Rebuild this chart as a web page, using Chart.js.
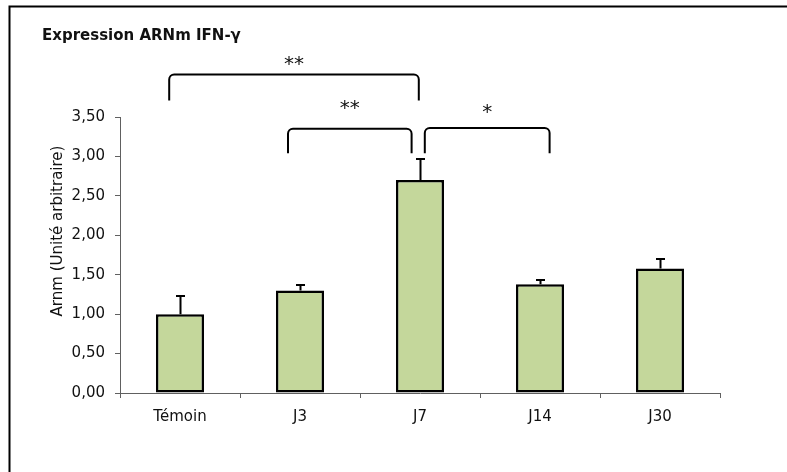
<!DOCTYPE html>
<html>
<head>
<meta charset="utf-8">
<script src="https://cdn.jsdelivr.net/npm/chart.js@4/dist/chart.umd.min.js"></script>
<style>
  html, body { margin: 0; padding: 0; background: #ffffff; }
  #wrap { position: relative; width: 787px; height: 472px; }
</style>
</head>
<body>
<div id="wrap"><canvas id="c" width="787" height="472"></canvas></div>
<script>
// IFN-γ mRNA expression per time point (mean and standard error)
const categories = ['Témoin', 'J3', 'J7', 'J14', 'J30'];
const means = [1.00, 1.30, 2.70, 1.38, 1.58];
const errors = [0.23, 0.07, 0.27, 0.05, 0.12];

// y axis: 0,00 to 3,50 by 0,50
const yMin = 0;
const yMax = 3.5;
const yStep = 0.5;

// significance comparisons between groups (category indices)
const comparisons = [
  { from: 0, to: 2, label: '**' },
  { from: 1, to: 2, label: '**' },
  { from: 2, to: 3, label: '*' }
];

// drawing layout of each comparison bracket, in axis units
const bracketLayout = [
  { top: 4.04, foot: 3.71, text: 4.22, dx0: -0.09, dx1: -0.01 },
  { top: 3.35, foot: 3.04, text: 3.67, dx0: -0.10, dx1: -0.07 },
  { top: 3.36, foot: 3.04, text: 3.62, dx0: 0.04, dx1: 0.08 }
];

const FONT = '"DejaVu Sans", Verdana, sans-serif';
const INK = '#111111';

const fmt = v => v.toFixed(2).replace('.', ',');

const decor = {
  id: 'decor',
  beforeDraw(chart) {
    const ctx = chart.ctx;
    ctx.save();
    ctx.fillStyle = '#ffffff';
    ctx.fillRect(0, 0, chart.width, chart.height);
    // frame
    ctx.strokeStyle = '#000000';
    ctx.lineWidth = 2;
    ctx.beginPath();
    ctx.moveTo(9.5, chart.height);
    ctx.lineTo(9.5, 6.5);
    ctx.lineTo(chart.width, 6.5);
    ctx.stroke();
    // title
    ctx.fillStyle = INK;
    ctx.font = 'bold 15px ' + FONT;
    ctx.textAlign = 'left';
    ctx.textBaseline = 'alphabetic';
    ctx.fillText('Expression ARNm IFN-γ', 42, 40);
    // y axis title
    ctx.font = '15px ' + FONT;
    ctx.translate(58, 231);
    ctx.rotate(-Math.PI / 2);
    ctx.textAlign = 'center';
    ctx.textBaseline = 'middle';
    ctx.fillText('Arnm (Unité arbitraire)', 0, 0);
    ctx.restore();
  },
  afterDatasetsDraw(chart) {
    const ctx = chart.ctx;
    const xs = chart.scales.x;
    const ys = chart.scales.y;
    const meta = chart.getDatasetMeta(0);
    ctx.save();
    ctx.strokeStyle = '#000000';
    ctx.lineWidth = 2;
    // error bars (upper half)
    meta.data.forEach((bar, i) => {
      const x = Math.round(bar.x) + 0.5;
      const y0 = ys.getPixelForValue(means[i]);
      const y1 = Math.round(ys.getPixelForValue(means[i] + errors[i]));
      ctx.beginPath();
      ctx.moveTo(x, y0);
      ctx.lineTo(x, y1);
      ctx.moveTo(x - 4.5, y1);
      ctx.lineTo(x + 4.5, y1);
      ctx.stroke();
    });
    // significance brackets
    const step = xs.getPixelForValue(1) - xs.getPixelForValue(0);
    comparisons.forEach((c, k) => {
      const L = bracketLayout[k];
      const xa = xs.getPixelForValue(c.from) + L.dx0 * step;
      const xb = xs.getPixelForValue(c.to) + L.dx1 * step;
      const yt = ys.getPixelForValue(L.top);
      const yf = ys.getPixelForValue(L.foot);
      const r = 5;
      ctx.beginPath();
      ctx.moveTo(xa, yf);
      ctx.arcTo(xa, yt, xa + r, yt, r);
      ctx.arcTo(xb, yt, xb, yt + r, r);
      ctx.lineTo(xb, yf);
      ctx.stroke();
      ctx.fillStyle = INK;
      ctx.font = '20px ' + FONT;
      ctx.textAlign = 'center';
      ctx.textBaseline = 'middle';
      ctx.fillText(c.label, (xa + xb) / 2, ys.getPixelForValue(L.text) + 5);
    });
    ctx.restore();
  }
};

new Chart(document.getElementById('c'), {
  type: 'bar',
  data: {
    labels: categories,
    datasets: [{
      data: means,
      backgroundColor: '#c4d79b',
      borderColor: '#000000',
      borderWidth: 2.5,
      borderSkipped: false,
      barPercentage: 0.4,
      categoryPercentage: 1.0
    }]
  },
  options: {
    responsive: false,
    devicePixelRatio: 1,
    animation: false,
    events: [],
    layout: { padding: { top: 117, right: 67, left: 0, bottom: 0 } },
    plugins: { legend: { display: false }, tooltip: { enabled: false }, title: { display: false } },
    scales: {
      x: {
        offset: true,
        grid: { display: true, offset: true, drawOnChartArea: false, drawTicks: true, tickLength: 5, color: '#606060', lineWidth: 1 },
        border: { display: true, color: '#606060', width: 1 },
        ticks: { color: INK, font: { family: FONT, size: 15 }, padding: 10, maxRotation: 0 },
        afterFit(scale) { scale.height = 79; }
      },
      y: {
        min: yMin,
        max: yMax,
        grid: { display: true, drawOnChartArea: false, drawTicks: true, tickLength: 5, color: '#606060', lineWidth: 1 },
        border: { display: true, color: '#606060', width: 1 },
        ticks: { stepSize: yStep, color: INK, font: { family: FONT, size: 15 }, padding: 10, callback: v => fmt(v) },
        afterFit(scale) { scale.width = 120; }
      }
    }
  },
  plugins: [decor]
});
</script>
</body>
</html>
